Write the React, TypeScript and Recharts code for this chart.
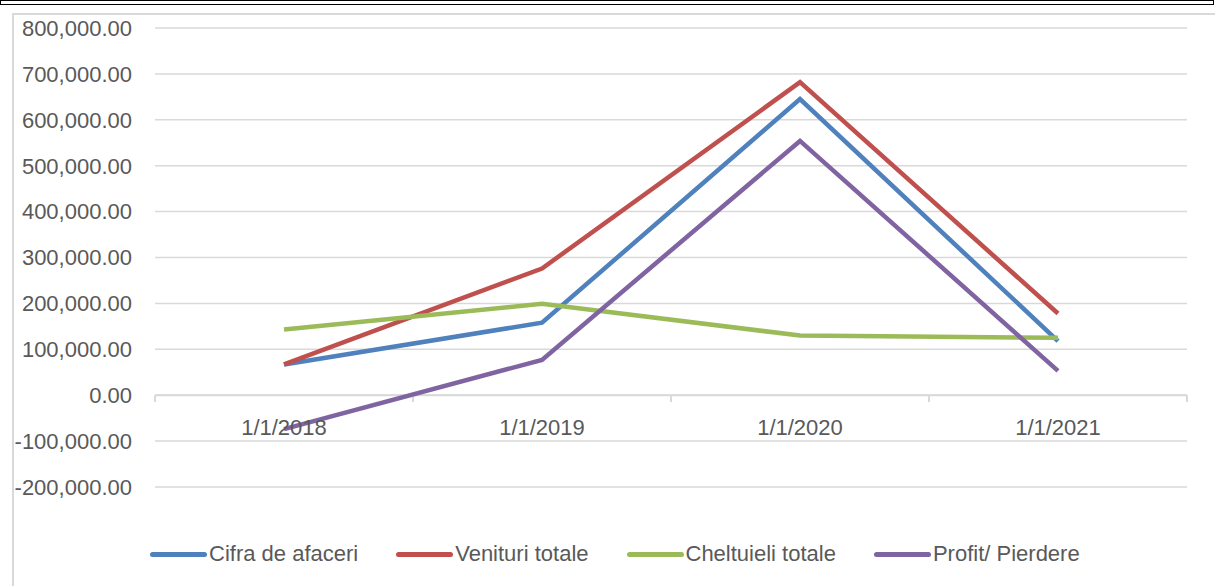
import React from 'react';
import { LineChart, Line, XAxis, YAxis, CartesianGrid, ReferenceLine } from 'recharts';

const categories = ['1/1/2018', '1/1/2019', '1/1/2020', '1/1/2021'];
const cifraDeAfaceri = [67000, 158000, 645000, 118000];
const venituriTotale = [67000, 276000, 682000, 178000];
const cheltuieliTotale = [143000, 199000, 130000, 125000];
const profitPierdere = [-74000, 77000, 554000, 53000];
const yTicks = [-200000, -100000, 0, 100000, 200000, 300000, 400000, 500000, 600000, 700000, 800000];

const series = [
  { key: 'cifra', name: 'Cifra de afaceri', color: '#4f81bd' },
  { key: 'venituri', name: 'Venituri totale', color: '#c0504d' },
  { key: 'cheltuieli', name: 'Cheltuieli totale', color: '#9bbb59' },
  { key: 'profit', name: 'Profit/ Pierdere', color: '#8064a2' },
];

// each category sits in the middle of its slot on a 0..n axis
const data = categories.map((c, i) => ({
  pos: i + 0.5,
  date: c,
  cifra: cifraDeAfaceri[i],
  venituri: venituriTotale[i],
  cheltuieli: cheltuieliTotale[i],
  profit: profitPierdere[i],
}));
const catTicks = categories.map((_, i) => i + 0.5);
const boundaries = [0, ...categories.map((_, i) => i + 1)];

const font = '"Liberation Sans", Arial, sans-serif';
const fmt = (v: number) => v.toLocaleString('en-US', { minimumFractionDigits: 2, maximumFractionDigits: 2 });

const DateTick = (props: any) => {
  const { x, y, payload } = props;
  return (
    <text x={x} y={y - 52} textAnchor="middle" fill="#595959" fontSize={22} fontFamily={font}>
      {categories[Math.floor(payload.value)]}
    </text>
  );
};

export default function App() {
  return (
    <div style={{ position: 'absolute', left: 0, top: 0, width: 1215, height: 586, background: '#fff', overflow: 'hidden' }}>
      <div style={{ position: 'absolute', left: 0, top: 0, width: 1212, height: 3, borderTop: '1.5px solid #000', borderBottom: '1.5px solid #000', borderLeft: '1.5px solid #000', borderRight: '1.5px solid #000' }} />
      <div style={{ position: 'absolute', left: 3, top: 3, width: 1206, height: 0, borderLeft: '1.5px solid #000', borderRight: '1.5px solid #000' }} />
      <div style={{ position: 'absolute', left: 12, top: 13, width: 1210, height: 580, borderLeft: '2px solid #d9d9d9', borderTop: '2px solid #d9d9d9' }} />
      <div style={{ position: 'absolute', left: 0, top: 0 }}>
        <LineChart width={1215} height={586} data={data} margin={{ top: 28, right: 28, left: 0, bottom: 69 }}>
          <CartesianGrid vertical={false} stroke="#d9d9d9" strokeWidth={1.5} />
          <XAxis
            dataKey="pos"
            type="number"
            domain={[0, categories.length]}
            ticks={catTicks}
            allowDataOverflow
            axisLine={false}
            tickLine={false}
            tickSize={0}
            tickMargin={0}
            height={30}
            tick={<DateTick />}
            interval={0}
          />
          <YAxis
            domain={[-200000, 800000]}
            ticks={yTicks}
            width={155}
            axisLine={false}
            tickLine={false}
            tickSize={0}
            tickMargin={23}
            tickFormatter={fmt}
            tick={{ fill: '#595959', fontSize: 22, fontFamily: font }}
            interval={0}
          />
          <ReferenceLine y={0} stroke="#d9d9d9" strokeWidth={2} />
          {boundaries.map((b) => (
            <ReferenceLine
              key={b}
              segment={[{ x: b, y: 0 }, { x: b, y: -15000 }]}
              stroke="#d9d9d9"
              strokeWidth={2}
            />
          ))}
          {series.map((s) => (
            <Line
              key={s.key}
              type="linear"
              dataKey={s.key}
              name={s.name}
              stroke={s.color}
              strokeWidth={4.5}
              dot={false}
              activeDot={false}
              isAnimationActive={false}
            />
          ))}
        </LineChart>
      </div>
      <div style={{ position: 'absolute', left: 150, top: 540, height: 28, display: 'flex', alignItems: 'center', fontFamily: font, fontSize: 22, color: '#595959' }}>
        {series.map((s) => (
          <div key={s.key} style={{ display: 'flex', alignItems: 'center', marginRight: 38 }}>
            <div style={{ width: 57, height: 5, borderRadius: 3, background: s.color, marginRight: 2 }} />
            <span>{s.name}</span>
          </div>
        ))}
      </div>
    </div>
  );
}
